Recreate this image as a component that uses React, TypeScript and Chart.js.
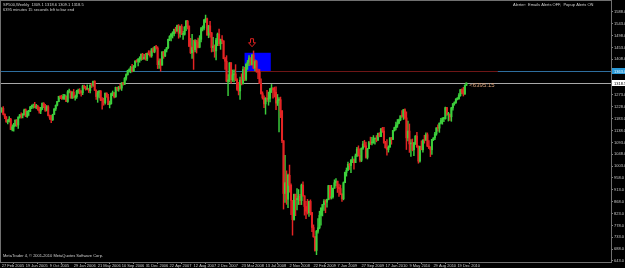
import React, { useEffect, useRef } from 'react';
import { Chart, registerables } from 'chart.js';

Chart.register(...registerables);

// Weekly SP500 bars, first bar = week of 27 Feb 2005. Each bar opens at the prior week's close.
const firstOpen = 1211;
const closes = [
  1222,1200,1190,1172,1172,1181,1142,1152,1156,1178,
  1159,1189,1198,1196,1198,1216,1191,1211,1211,1227,
  1229,1234,1226,1230,1219,1212,1218,1241,1228,1215,
  1228,1195,1186,1179,1199,1220,1234,1248,1268,1265,
  1260,1267,1268,1248,1285,1287,1261,1283,1264,1266,
  1287,1289,1287,1281,1307,1302,1295,1295,1289,1311,
  1310,1325,1291,1267,1281,1288,1253,1252,1244,1280,
  1265,1236,1240,1278,1280,1266,1302,1295,1304,1299,
  1319,1314,1336,1350,1365,1368,1377,1364,1380,1401,
  1400,1409,1409,1427,1410,1416,1409,1431,1430,1422,
  1448,1438,1456,1451,1388,1402,1386,1436,1421,1444,
  1452,1484,1495,1505,1505,1522,1515,1536,1507,1533,
  1503,1503,1531,1553,1534,1458,1433,1453,1445,1479,
  1474,1454,1484,1525,1527,1557,1562,1500,1535,1509,
  1453,1458,1440,1481,1504,1467,1484,1478,1411,1401,
  1325,1330,1395,1331,1349,1353,1331,1294,1288,1329,
  1315,1370,1332,1390,1397,1413,1388,1425,1375,1400,
  1361,1360,1317,1278,1262,1239,1260,1257,1260,1296,
  1298,1292,1283,1242,1252,1255,1213,1099,899,940,
  877,968,930,873,800,896,876,880,888,872,
  931,890,850,832,826,869,827,770,735,683,
  756,769,816,843,857,870,866,877,929,883,
  887,919,940,946,921,918,896,879,940,979,
  987,1010,1005,1026,1029,1016,1042,1068,1044,1025,
  1071,1087,1080,1036,1069,1093,1091,1091,1106,1106,
  1102,1127,1115,1144,1136,1091,1073,1066,1075,1109,
  1104,1138,1149,1159,1166,1178,1194,1192,1217,1186,
  1110,1136,1087,1089,1065,1092,1117,1076,1022,1078,
  1065,1102,1101,1122,1079,1071,1065,1104,1110,1125,
  1148,1147,1166,1176,1183,1183,1225,1199,1199,1190,
  1224,1240,1244,1257,1258,1271,1293,1283,1276,1309.1,1318.5,
];
const highs = [
  1225,1229,1201,1191,1180,1191,1184,1160,1165,1178,
  1180,1190,1199,1205,1202,1219,1220,1212,1213,1230,
  1235,1238,1245,1237,1234,1227,1226,1243,1244,1237,
  1233,1233,1197,1196,1200,1221,1235,1249,1268,1270,
  1272,1275,1275,1270,1290,1295,1288,1286,1294,1273,
  1291,1295,1297,1290,1310,1310,1306,1311,1298,1311,
  1318,1326,1327,1292,1287,1290,1290,1263,1261,1280,
  1281,1275,1250,1280,1288,1283,1303,1302,1305,1314,
  1320,1321,1339,1353,1367,1372,1382,1389,1385,1403,
  1407,1411,1418,1429,1431,1427,1431,1432,1441,1440,
  1449,1453,1457,1461,1456,1410,1410,1438,1438,1445,
  1453,1485,1498,1505,1513,1523,1530,1538,1540,1534,
  1540,1514,1532,1556,1556,1535,1488,1503,1481,1483,
  1481,1489,1498,1530,1535,1560,1576,1565,1537,1552,
  1510,1492,1463,1488,1508,1523,1485,1498,1479,1416,
  1422,1350,1396,1396,1368,1368,1388,1335,1321,1341,
  1353,1381,1378,1391,1404,1422,1415,1426,1440,1406,
  1404,1371,1370,1334,1285,1270,1263,1291,1284,1298,
  1313,1301,1303,1304,1275,1263,1265,1214,1100,1044,
  985,973,1007,936,873,897,897,918,914,896,
  935,943,891,869,877,870,875,827,780,736,
  759,804,832,846,858,876,875,878,930,930,
  930,920,951,956,946,935,931,899,943,980,
  996,1018,1013,1028,1039,1030,1049,1074,1080,1069,
  1072,1097,1101,1094,1070,1097,1113,1112,1119,1108,
  1119,1128,1130,1146,1150,1150,1097,1104,1080,1112,
  1112,1139,1151,1170,1180,1181,1194,1214,1218,1220,
  1209,1174,1163,1104,1106,1092,1119,1131,1080,1079,
  1099,1103,1120,1129,1129,1100,1077,1105,1111,1131,
  1149,1160,1167,1184,1187,1188,1227,1226,1207,1200,
  1226,1240,1247,1259,1263,1278,1294,1296,1302,1311,1318.6,
];
const lows = [
  1207,1197,1183,1169,1163,1170,1141,1137,1136,1155,
  1154,1146,1185,1185,1186,1196,1191,1188,1195,1210,
  1221,1223,1224,1221,1215,1204,1202,1218,1225,1211,
  1212,1193,1180,1168,1176,1199,1214,1231,1247,1259,
  1256,1256,1256,1248,1245,1281,1261,1260,1261,1253,
  1260,1279,1277,1268,1274,1298,1291,1294,1282,1281,
  1301,1305,1290,1256,1245,1262,1251,1219,1234,1238,
  1265,1236,1224,1238,1270,1262,1264,1288,1287,1295,
  1290,1310,1312,1329,1348,1359,1357,1360,1362,1377,
  1397,1383,1397,1404,1407,1409,1405,1403,1425,1416,
  1416,1434,1433,1447,1373,1374,1363,1386,1412,1418,
  1436,1449,1479,1478,1489,1497,1507,1515,1488,1492,
  1502,1484,1500,1517,1523,1456,1430,1412,1370,1436,
  1432,1451,1452,1474,1516,1520,1548,1500,1490,1492,
  1436,1438,1416,1406,1460,1460,1446,1468,1410,1370,
  1323,1270,1322,1318,1324,1322,1327,1290,1273,1256,
  1311,1315,1327,1327,1370,1384,1386,1386,1373,1364,
  1359,1335,1316,1276,1257,1225,1200,1248,1234,1247,
  1282,1261,1265,1217,1233,1133,1187,1092,840,865,
  858,845,904,819,741,798,815,837,857,857,
  857,889,817,804,821,812,818,754,733,680,
  667,749,765,779,814,835,826,847,875,878,
  878,881,919,928,903,888,895,869,875,940,
  965,987,990,978,1016,991,1016,1039,1041,1019,
  1020,1066,1075,1033,1030,1069,1085,1083,1090,1086,
  1095,1100,1114,1115,1131,1090,1071,1045,1056,1075,
  1086,1104,1136,1140,1150,1164,1175,1188,1180,1181,
  1066,1099,1055,1040,1061,1043,1085,1074,1014,1018,
  1065,1056,1090,1101,1077,1069,1039,1047,1100,1103,
  1120,1136,1131,1163,1162,1172,1181,1195,1174,1176,
  1173,1215,1234,1241,1254,1257,1268,1278,1269,1276,1309.1,
];

const dateLabels = [
  '27 Feb 2005','19 Jun 2005','9 Oct 2005','29 Jan 2006','21 May 2006',
  '10 Sep 2006','31 Dec 2006','22 Apr 2007','12 Aug 2007','2 Dec 2007',
  '23 Mar 2008','13 Jul 2008','2 Nov 2008','22 Feb 2009','7 Jun 2009',
  '27 Sep 2009','17 Jan 2010','9 May 2010','29 Aug 2010','19 Dec 2010',
];
const weeksPerDateLabel = 16;
const weeksOnAxis = 407;

const priceTicks = [
  1588,1543,1498,1453,1408,1363,1318,1273,1228,1183,1138,
  1093,1048,1003,958,913,868,823,778,733,688,643,
];
const priceMin = 639.2;
const priceMax = 1621.9;

// chart objects
const blueLevel = 1363;
const redLevel = 1362;
const redLineWeeks = [164, 331];
const zoneWeeks = [162, 179.5];
const zonePrices = [1363, 1433];
const arrowWeek = 167;
const arrowPrice = 1456;

const headerSymbol = 'SP500,Weekly';
const countdownText = '6395 minutes 15 seconds left to bar end';
const countdownShort = '<6395:15';
const alerterText = 'Alerter:  Emails Alerts OFF,  Popup Alerts ON';
const copyrightText = 'MetaTrader 4, \u00A9 2001-2010 MetaQuotes Software Corp.';

const UP = '#3ccf3c';
const DOWN = '#e42424';
const FONT = '"Liberation Sans", Arial, sans-serif';

export default function App() {
  const ref = useRef<HTMLCanvasElement | null>(null);

  useEffect(() => {
    document.body.style.margin = '0';
    document.body.style.background = '#000';
    const canvas = ref.current;
    if (!canvas) return;

    const n = Math.min(closes.length, highs.length, lows.length);
    const opens: number[] = [];
    for (let i = 0; i < n; i++) opens.push(i === 0 ? firstOpen : closes[i - 1]);
    const colors = opens.map((o, i) => (closes[i] >= o ? UP : DOWN));
    const wicks = opens.map((_, i) => [lows[i], highs[i]]);
    const bodies = opens.map((o, i) => [o, closes[i]]);
    const labels = Array.from({ length: weeksOnAxis }, (_, i) => String(i));
    const last = n - 1;

    const mtPlugin = {
      id: 'mt4',
      beforeDraw(chart: any) {
        const ctx = chart.ctx;
        ctx.save();
        ctx.fillStyle = '#000';
        ctx.fillRect(0, 0, chart.width, chart.height);
        ctx.restore();
      },
      beforeDatasetsDraw(chart: any) {
        const { ctx, chartArea: a } = chart;
        const x = chart.scales.x;
        const y = chart.scales.y;
        ctx.save();
        ctx.beginPath();
        ctx.rect(a.left, a.top, a.right - a.left, a.bottom - a.top);
        ctx.clip();
        const x0 = x.getPixelForValue(zoneWeeks[0]);
        const x1 = x.getPixelForValue(zoneWeeks[1]);
        const y0 = y.getPixelForValue(zonePrices[1]);
        const y1 = y.getPixelForValue(zonePrices[0]);
        ctx.fillStyle = '#0000ff';
        ctx.fillRect(x0, y0, x1 - x0, y1 - y0);
        const hline = (price: number, from: number, to: number, color: string) => {
          const py = Math.round(y.getPixelForValue(price)) + 0.5;
          ctx.strokeStyle = color;
          ctx.lineWidth = 1;
          ctx.beginPath();
          ctx.moveTo(from, py);
          ctx.lineTo(to, py);
          ctx.stroke();
        };
        hline(blueLevel, a.left, a.right, '#2e6e9e');
        hline(redLevel, x.getPixelForValue(redLineWeeks[0]), x.getPixelForValue(redLineWeeks[1]), '#6e1616');
        hline(closes[last], a.left, a.right, '#a8a8a8');
        ctx.restore();
      },
      afterDraw(chart: any) {
        const { ctx, chartArea: a } = chart;
        const x = chart.scales.x;
        const y = chart.scales.y;
        ctx.save();
        // frame
        ctx.strokeStyle = '#707070';
        ctx.lineWidth = 1;
        ctx.strokeRect(0.5, 0.5, a.right, a.bottom);
        // arrow
        const ax = x.getPixelForValue(arrowWeek);
        const ay = y.getPixelForValue(arrowPrice);
        ctx.strokeStyle = '#e02020';
        ctx.beginPath();
        ctx.moveTo(ax, ay);
        ctx.lineTo(ax - 3.5, ay - 4);
        ctx.lineTo(ax - 1.5, ay - 4);
        ctx.lineTo(ax - 1.5, ay - 8);
        ctx.lineTo(ax + 1.5, ay - 8);
        ctx.lineTo(ax + 1.5, ay - 4);
        ctx.lineTo(ax + 3.5, ay - 4);
        ctx.closePath();
        ctx.stroke();
        // texts
        ctx.textBaseline = 'top';
        ctx.textAlign = 'left';
        ctx.fillStyle = '#d0d0d0';
        ctx.font = `4px ${FONT}`;
        const fmt = (v: number) => v.toFixed(1);
        ctx.fillText(
          `${headerSymbol}  ${fmt(opens[last])} ${fmt(highs[last])} ${fmt(lows[last])} ${fmt(closes[last])}`,
          3, 3,
        );
        ctx.fillText(countdownText, 3, 8);
        ctx.fillText(alerterText, 513, 3);
        ctx.fillText(copyrightText, 3, 254);
        // countdown near last bar
        ctx.fillStyle = '#dca47c';
        ctx.font = `6px ${FONT}`;
        ctx.textBaseline = 'middle';
        ctx.fillText(countdownShort, x.getPixelForValue(last) + 3, y.getPixelForValue(closes[last]) + 2);
        // axis price boxes
        ctx.font = `4px ${FONT}`;
        const box = (price: number, bg: string, fg: string) => {
          const py = Math.round(y.getPixelForValue(price));
          ctx.fillStyle = bg;
          ctx.fillRect(a.right + 1, py - 3, chart.width - a.right - 1, 6);
          ctx.fillStyle = fg;
          ctx.textBaseline = 'middle';
          ctx.fillText(price.toFixed(1), a.right + 3, py + 0.5);
        };
        box(blueLevel, '#2a9ad8', '#e8f4ff');
        box(closes[last], '#ffffff', '#000000');
        ctx.restore();
      },
    };

    const chart = new Chart(canvas, {
      type: 'bar',
      data: {
        labels,
        datasets: [
          {
            data: wicks as any,
            backgroundColor: colors,
            barThickness: 0.8,
            grouped: false,
            order: 2,
          } as any,
          {
            data: bodies as any,
            backgroundColor: colors,
            barThickness: 1.4,
            minBarLength: 1,
            grouped: false,
            order: 1,
          } as any,
        ],
      },
      options: {
        responsive: false,
        maintainAspectRatio: false,
        animation: false,
        devicePixelRatio: 1,
        events: [],
        layout: { autoPadding: false, padding: { top: 1, left: 1, right: 0, bottom: 0 } },
        plugins: { legend: { display: false }, tooltip: { enabled: false } },
        scales: {
          x: {
            type: 'category',
            offset: true,
            border: { display: false },
            grid: { drawOnChartArea: false, tickLength: 2, color: '#808080' },
            ticks: {
              autoSkip: false,
              maxRotation: 0,
              minRotation: 0,
              align: 'start',
              padding: 0,
              color: '#c8c8c8',
              font: { size: 4, family: FONT, lineHeight: 1 },
              callback: (v: any) => dateLabels[Number(v) / weeksPerDateLabel] ?? '',
            },
            afterBuildTicks: (axis: any) => {
              axis.ticks = axis.ticks.filter(
                (t: any) => t.value % weeksPerDateLabel === 0 && t.value / weeksPerDateLabel < dateLabels.length,
              );
            },
            afterFit: (axis: any) => {
              axis.height = 6;
            },
          },
          y: {
            type: 'linear',
            position: 'right',
            min: priceMin,
            max: priceMax,
            border: { display: false },
            grid: { drawOnChartArea: false, tickLength: 2, color: '#808080' },
            ticks: {
              padding: 1,
              color: '#c8c8c8',
              font: { size: 4, family: FONT, lineHeight: 1 },
              callback: (v: any) => Number(v).toFixed(1),
            },
            afterBuildTicks: (axis: any) => {
              axis.ticks = priceTicks.map((v) => ({ value: v }));
            },
            afterFit: (axis: any) => {
              axis.width = 14;
            },
          },
        },
      } as any,
      plugins: [mtPlugin],
    });

    return () => chart.destroy();
  }, []);

  return (
    <div style={{ width: 625, height: 268, background: '#000' }}>
      <canvas ref={ref} width={625} height={268} style={{ display: 'block' }} />
    </div>
  );
}
